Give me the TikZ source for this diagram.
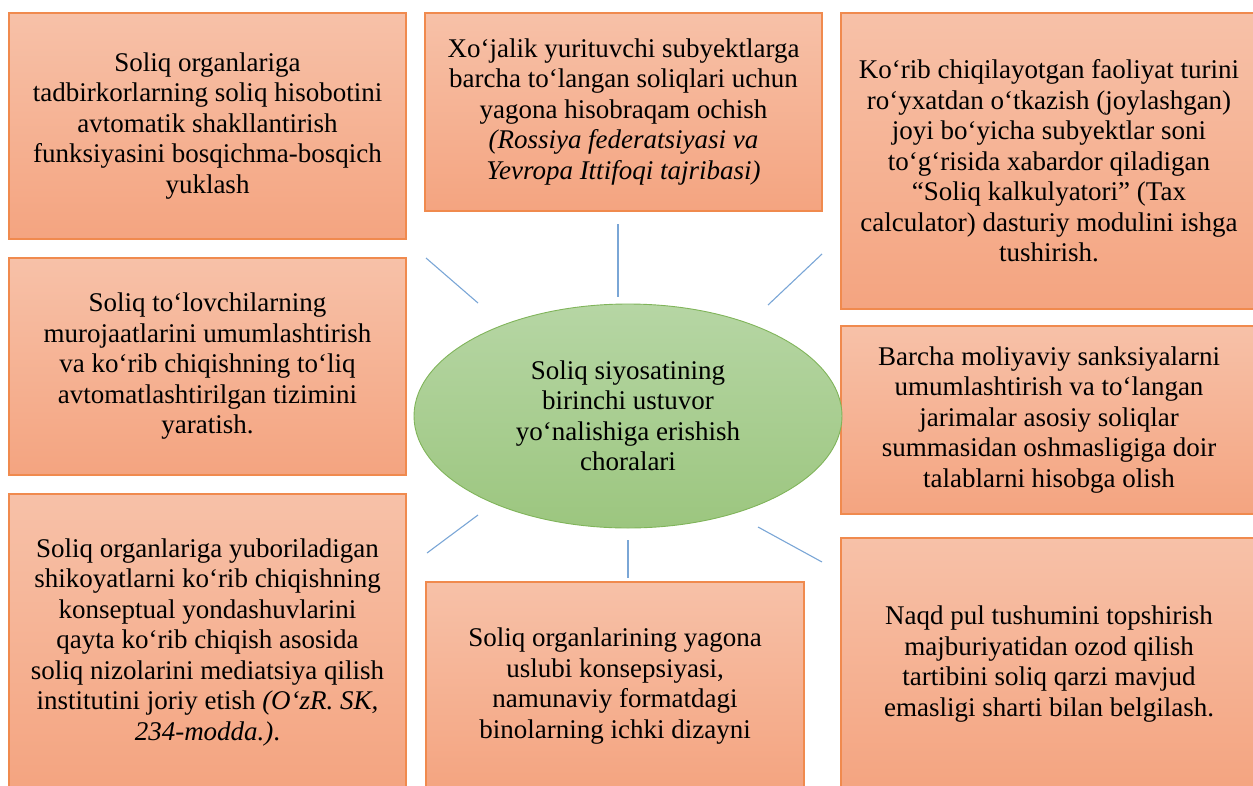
\documentclass[tikz,border=0pt]{standalone}
\usepackage{fontspec}
\setmainfont{Liberation Serif}
\usetikzlibrary{shapes.geometric}
\definecolor{boxtop}{RGB}{247,193,168}
\definecolor{boxbot}{RGB}{244,164,128}
\definecolor{boxline}{RGB}{240,138,78}
\definecolor{elltop}{RGB}{182,214,164}
\definecolor{ellbot}{RGB}{156,198,127}
\definecolor{ellline}{RGB}{128,180,90}
\definecolor{spoke}{RGB}{122,166,214}
\tikzset{
  box/.style={draw=boxline, line width=1.1pt, top color=boxtop, bottom color=boxbot,
    rectangle, inner sep=0pt, align=center, text=black,
    font=\fontsize{27pt}{30.5pt}\selectfont},
  hub/.style={ellipse, draw=ellline, line width=0.9pt, top color=elltop, bottom color=ellbot,
    inner sep=0pt, minimum width=428pt, minimum height=224pt, align=center,
    font=\fontsize{27pt}{30.5pt}\selectfont},
  spokeline/.style={draw=spoke, line width=1.1pt}
}
\begin{document}
\begin{tikzpicture}[x=1pt,y=-1pt]
\useasboundingbox (0,0) rectangle (1253,785);
% top row
\node[box, minimum width=397pt, minimum height=226pt] (b1) at (207.5,126)
  {Soliq organlariga\\tadbirkorlarning soliq hisobotini\\avtomatik shakllantirish\\funksiyasini bosqichma-bosqich\\yuklash};
\node[box, minimum width=397pt, minimum height=198pt] (b2) at (623.5,112)
  {Xo‘jalik yurituvchi subyektlarga\\barcha to‘langan soliqlari uchun\\yagona hisobraqam ochish\\\textit{(Rossiya federatsiyasi va}\\\textit{Yevropa Ittifoqi tajribasi)}};
\node[box, minimum width=416pt, minimum height=296pt] (b3) at (1049,161)
  {Ko‘rib chiqilayotgan faoliyat turini\\ro‘yxatdan o‘tkazish (joylashgan)\\joyi bo‘yicha subyektlar soni\\to‘g‘risida xabardor qiladigan\\“Soliq kalkulyatori” (Tax\\calculator) dasturiy modulini ishga\\tushirish.};
% middle row
\node[box, minimum width=397pt, minimum height=217pt] (b4) at (207.5,366.5)
  {Soliq to‘lovchilarning\\murojaatlarini umumlashtirish\\va ko‘rib chiqishning to‘liq\\avtomatlashtirilgan tizimini\\yaratish.};
\node[box, minimum width=416pt, minimum height=188pt] (b5) at (1049,420)
  {Barcha moliyaviy sanksiyalarni\\umumlashtirish va to‘langan\\jarimalar asosiy soliqlar\\summasidan oshmasligiga doir\\talablarni hisobga olish};
% bottom row
\node[box, minimum width=397pt, minimum height=296pt] (b6) at (207.5,642)
  {Soliq organlariga yuboriladigan\\shikoyatlarni ko‘rib chiqishning\\konseptual yondashuvlarini\\qayta ko‘rib chiqish asosida\\soliq nizolarini mediatsiya qilish\\institutini joriy etish \textit{(O‘zR. SK,}\\\textit{234-modda.)}.};
\node[box, minimum width=378pt, minimum height=208pt] (b7) at (615,686)
  {Soliq organlarining yagona\\uslubi konsepsiyasi,\\namunaviy formatdagi\\binolarning ichki dizayni};
\node[box, minimum width=416pt, minimum height=252pt] (b8) at (1049,664)
  {Naqd pul tushumini topshirish\\majburiyatidan ozod qilish\\tartibini soliq qarzi mavjud\\emasligi sharti bilan belgilash.};
% hub
\node[hub] (c) at (628,416)
  {Soliq siyosatining\\birinchi ustuvor\\yo‘nalishiga erishish\\choralari};
% spokes
\coordinate (s1a) at (426,258); \coordinate (s1b) at (478,303);
\coordinate (s2a) at (618,224); \coordinate (s2b) at (618,297);
\coordinate (s3a) at (822,254); \coordinate (s3b) at (768,305);
\coordinate (s4a) at (478,515); \coordinate (s4b) at (427,553);
\coordinate (s5a) at (628,540); \coordinate (s5b) at (628,578);
\coordinate (s6a) at (758,527); \coordinate (s6b) at (822,562);
\draw[spokeline] (s1a) -- (s1b);
\draw[spokeline] (s2a) -- (s2b);
\draw[spokeline] (s3a) -- (s3b);
\draw[spokeline] (s4a) -- (s4b);
\draw[spokeline] (s5a) -- (s5b);
\draw[spokeline] (s6a) -- (s6b);
\end{tikzpicture}
\end{document}
